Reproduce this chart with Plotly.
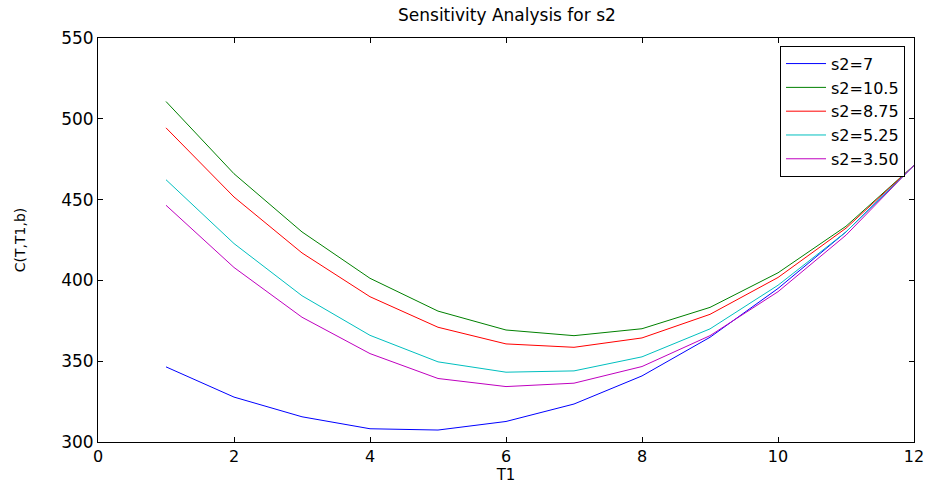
import plotly.graph_objects as go

T1 = [1, 2, 3, 4, 5, 6, 7, 8, 9, 10, 11, 12]

s2_7 = [346.5, 327.8, 315.6, 308.2, 307.4, 312.7, 323.5, 340.9, 364.8, 395.0, 430.0, 471.2]
s2_10_5 = [510.7, 466.0, 430.0, 401.3, 381.0, 369.3, 365.8, 370.1, 383.3, 404.7, 433.5, 471.2]
s2_8_75 = [494.4, 451.6, 417.0, 389.9, 371.0, 360.7, 358.6, 364.4, 379.0, 401.8, 432.3, 471.2]
s2_5_25 = [462.3, 422.8, 390.5, 366.0, 349.6, 343.2, 344.0, 352.7, 370.0, 397.0, 430.0, 471.2]
s2_3_50 = [446.5, 408.0, 377.2, 354.7, 339.3, 334.3, 336.4, 346.7, 365.8, 393.0, 428.0, 471.2]

series_names = ["s2=7", "s2=10.5", "s2=8.75", "s2=5.25", "s2=3.50"]
series_values = [s2_7, s2_10_5, s2_8_75, s2_5_25, s2_3_50]
series_colors = ["#0000FF", "#008000", "#FF0000", "#00BFBF", "#BF00BF"]

fig = go.Figure()
for name, vals, col in zip(series_names, series_values, series_colors):
    fig.add_trace(go.Scatter(x=T1, y=vals, mode="lines", name=name,
                             line=dict(color=col, width=1)))

font_family = "DejaVu Sans, Liberation Sans, Arial"
fig.update_layout(
    width=931, height=484,
    margin=dict(l=98, r=17, t=38, b=42, autoexpand=False),
    paper_bgcolor="white", plot_bgcolor="white",
    font=dict(family=font_family, color="black", size=16),
    title=dict(text="Sensitivity Analysis for s2", x=0.5445, xanchor="center",
               y=0.968, yanchor="middle", font=dict(size=17)),
    showlegend=True,
    legend=dict(x=0.989, xanchor="right", y=0.981, yanchor="top",
                bgcolor="white", bordercolor="black", borderwidth=1,
                font=dict(size=16), tracegroupgap=0, itemwidth=40),
)
fig.update_xaxes(range=[0, 12], tickvals=[0, 2, 4, 6, 8, 10, 12],
                 ticks="inside", ticklen=5, tickcolor="black",
                 showline=True, linecolor="black", linewidth=1, mirror="ticks",
                 showgrid=False, zeroline=False, automargin=False,
                 title=dict(text="T1", standoff=7, font=dict(size=15)),
                 tickfont=dict(size=16))
fig.update_yaxes(range=[300, 550], tickvals=[300, 350, 400, 450, 500, 550],
                 ticks="inside", ticklen=5, tickcolor="black",
                 showline=True, linecolor="black", linewidth=1, mirror="ticks",
                 showgrid=False, zeroline=False, automargin=False,
                 title=dict(text="C(T,T1,b)", standoff=32, font=dict(size=14)),
                 tickfont=dict(size=17))

fig.write_html("out.html")
